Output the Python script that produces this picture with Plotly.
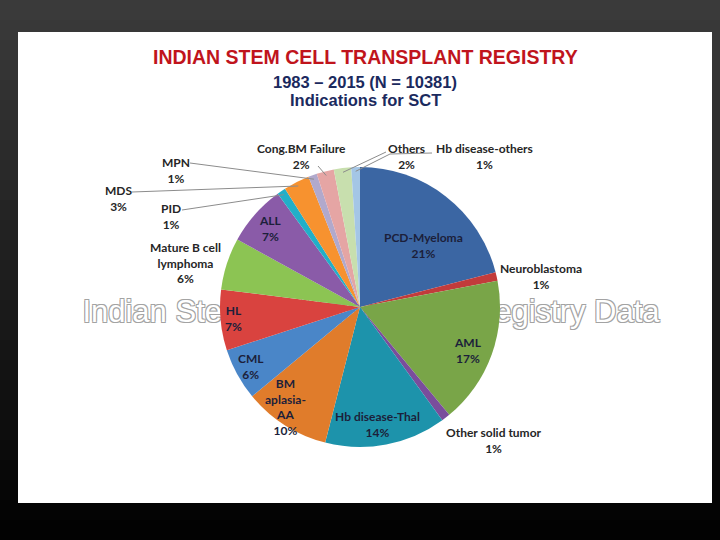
import math
import plotly.graph_objects as go

# ---------------- data ----------------
categories = ["PCD-Myeloma", "Neuroblastoma", "AML", "Other solid tumor",
              "Hb disease-Thal", "BM aplasia-AA", "CML", "HL",
              "Mature B cell lymphoma", "ALL", "PID", "MDS", "MPN",
              "Cong.BM Failure", "Others", "Hb disease-others"]
percent = [21, 1, 17, 1, 14, 10, 6, 7, 6, 7, 1, 3, 1, 2, 2, 1]
label_names = ["PCD-Myeloma", "Neuroblastoma", "AML", "Other solid tumor",
               "Hb disease-Thal", "BM<br>aplasia-<br>AA", "CML", "HL",
               "Mature B cell<br>lymphoma", "ALL", "PID", "MDS", "MPN",
               "Cong.BM Failure", "Others", "Hb disease-others"]
title_lines = ["INDIAN STEM CELL TRANSPLANT REGISTRY",
               "1983 \u2013 2015 (N = 10381)",
               "Indications for SCT"]
watermark = "Indian Stem Cell Transplant Registry Data"

# ---------------- styles ----------------
slice_colors = ["#3b66a3", "#c23b3b", "#79a548", "#7a4d9c", "#1d93ab",
                "#e07c2b", "#4a86c8", "#d9433f", "#8cc453", "#8a5ba8",
                "#22afc8", "#f7922f", "#b1a9cc", "#e5a5a4", "#c8dfae",
                "#a4c6e6"]
W, H = 720, 540
cx, cy, R = 360, 307, 140
# label centres (px) and whether inside the pie
label_pos = [(423, 245), (541, 276), (468, 350), (494, 440), (377, 424),
             (285, 407), (251, 366), (233, 318), (185, 263), (270, 228),
             (171, 216), (118, 198), (176, 170), (301, 156), (406, 156),
             (484, 156)]
inside = [True, False, True, False, True, True, True, True, False, True,
          False, False, False, False, False, False]
# leader line start points (px) for small slices
leaders = {10: [(182, 210)], 11: [(132, 192)], 12: [(190, 163)],
           13: [(318, 166)], 14: [(386, 152)], 15: [(432, 153), (390, 154)]}

fig = go.Figure()

# background gradient strips
shapes = []
n = 27
for i in range(n):
    t = i / (n - 1)
    v = int(round(58 - t * 56))
    c = f"rgb({v},{v},{v})"
    shapes.append(dict(type="rect", xref="x", yref="y", x0=0, x1=W,
                       y0=i * H / n, y1=(i + 1) * H / n + 1,
                       fillcolor=c, line=dict(width=0), layer="below"))
# white slide
shapes.append(dict(type="rect", xref="x", yref="y", x0=18, x1=712, y0=32,
                   y1=503, fillcolor="white", line=dict(width=0),
                   layer="below"))

# watermark (behind pie)
fig.add_trace(go.Scatter(
    x=[371], y=[314], mode="text", text=[watermark],
    textfont=dict(family="Liberation Sans", size=31, color="#ffffff",
                  shadow="-1px -1px 0 #a3a3a3, 1px -1px 0 #a3a3a3, "
                         "-1px 1px 0 #a3a3a3, 1px 1px 0 #a3a3a3"),
    hoverinfo="skip", showlegend=False))

# pie
fig.add_trace(go.Pie(
    labels=categories, values=percent, sort=False, direction="clockwise",
    rotation=0, marker=dict(colors=slice_colors, line=dict(width=0)),
    textinfo="none", textposition="none", hoverinfo="label+percent",
    showlegend=False,
    domain=dict(x=[(cx - R) / W, (cx + R) / W],
                y=[1 - (cy + R) / H, 1 - (cy - R) / H])))

# leader lines (end at slice mid-angle computed from data)
total = sum(percent)
cum = 0
mids = []
for p in percent:
    mids.append((cum + p / 2) / total * 360)
    cum += p
for idx, pts in leaders.items():
    a = math.radians(mids[idx])
    ex = cx + 0.97 * R * math.sin(a)
    ey = cy - 0.97 * R * math.cos(a)
    allp = pts + [(ex, ey)]
    path = "M " + " L ".join(f"{x:.1f},{y:.1f}" for x, y in allp)
    shapes.append(dict(type="path", xref="x", yref="y", path=path,
                       line=dict(color="#8c8c8c", width=1), layer="above"))

annotations = []
for name, p, (x, y), ins in zip(label_names, percent, label_pos, inside):
    annotations.append(dict(
        x=x, y=y, xref="x", yref="y", text=f"{name}<br>{p}%",
        showarrow=False, align="center",
        font=dict(family="Lato", size=12, weight="bold",
                  color="#1c1f3a" if ins else "#262626")))

title_y = [57, 82, 100]
title_sizes = [19.5, 16.5, 16.5]
title_colors = ["#c0141c", "#1b2a5e", "#1b2a5e"]
for t, y, s, c in zip(title_lines, title_y, title_sizes, title_colors):
    annotations.append(dict(
        x=365, y=y, xref="x", yref="y", text=t, showarrow=False,
        font=dict(family="Liberation Sans", size=s, weight="bold", color=c)))

fig.update_layout(
    width=W, height=H, margin=dict(l=0, r=0, t=0, b=0),
    paper_bgcolor="#1e1e1e", plot_bgcolor="rgba(0,0,0,0)",
    xaxis=dict(range=[0, W], visible=False, fixedrange=True),
    yaxis=dict(range=[H, 0], visible=False, fixedrange=True),
    shapes=shapes, annotations=annotations)

fig.write_html("out.html", config={"displayModeBar": False},
               post_script="document.body.style.margin='0';"
                           "document.body.style.overflow='hidden';")
